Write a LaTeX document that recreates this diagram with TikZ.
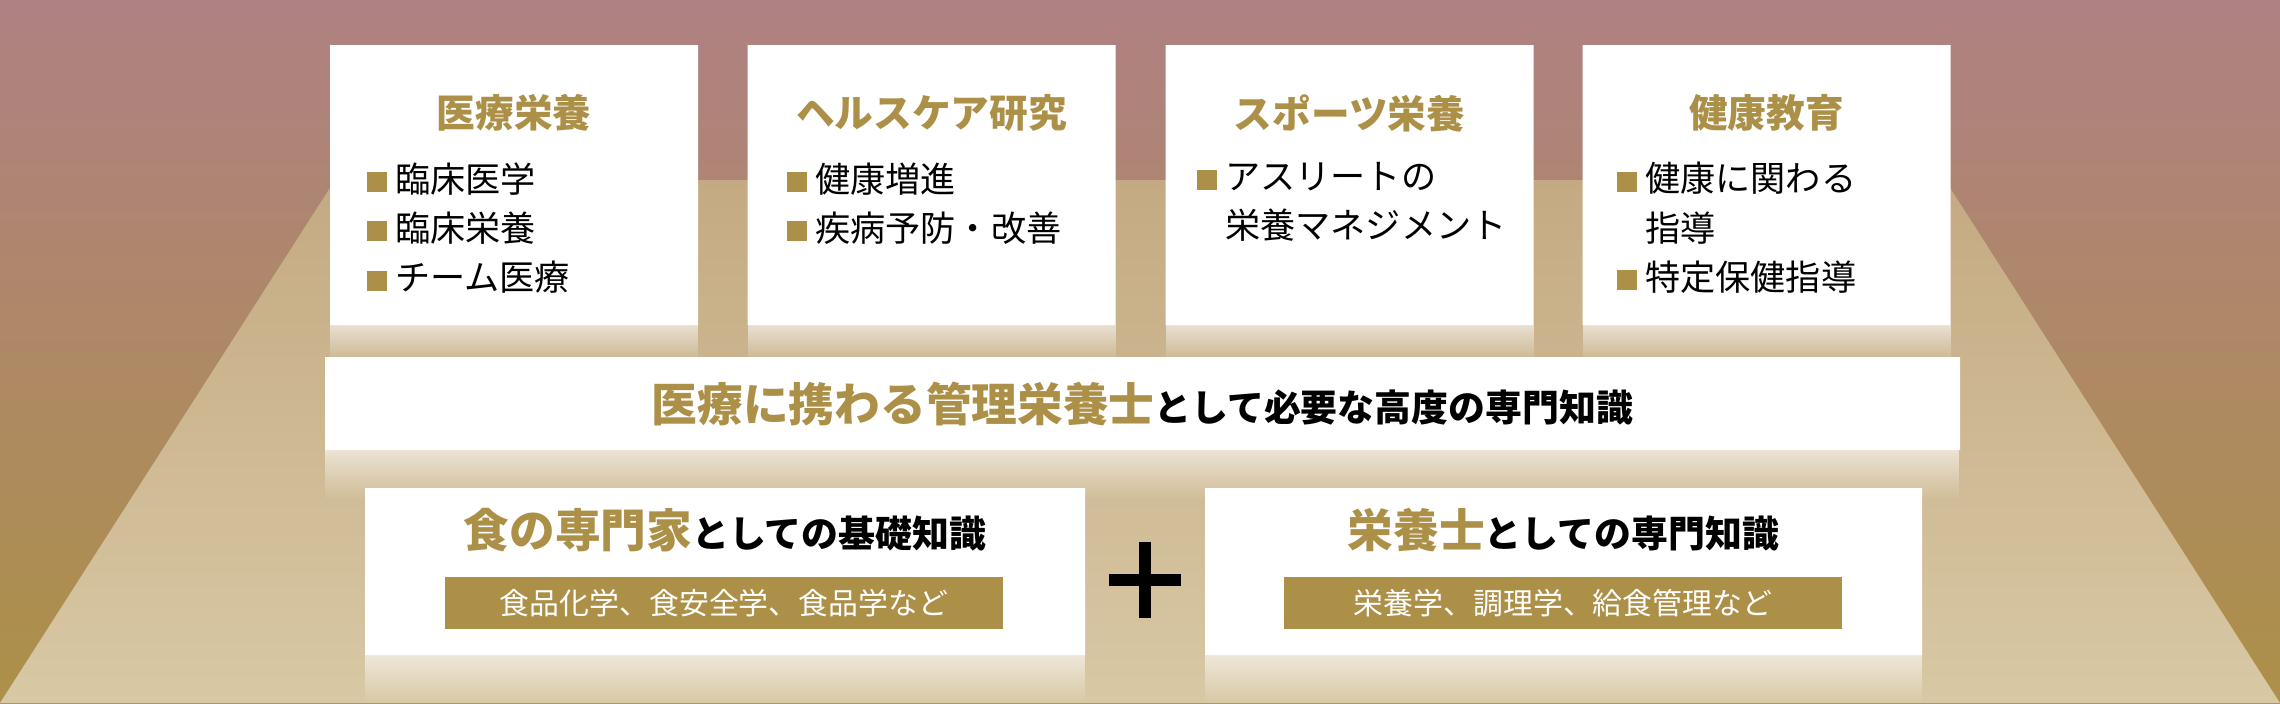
\documentclass[tikz,border=0pt]{standalone}
\usepackage{fontspec}
\setmainfont{Noto Sans CJK JP}
\usetikzlibrary{shapes.misc, fadings, positioning}
\definecolor{gold}{HTML}{AD9048}
\definecolor{mauve}{HTML}{AF8183}
\definecolor{beigeT}{HTML}{C4AA82}
\definecolor{beigeB}{HTML}{D8C8A4}
\tikzset{
  card/.style={chamfered rectangle, chamfered rectangle corners={north west,south west}, chamfered rectangle xsep=0.1cm, chamfered rectangle ysep=0.1cm, fill=white, draw=none, inner sep=0pt},
  glow/.style={fill=white, path fading=south, opacity=0.6},
  head/.style={font=\bfseries\fontsize{11}{12}\selectfont, text=gold},
  item/.style={font=\fontsize{10}{14}\selectfont, align=left, anchor=north west},
  tag/.style={fill=gold, text=white, minimum width=5.58cm, minimum height=0.5cm, font=\fontsize{8.5}{9}\selectfont}
}
\newcommand{\sq}{\textcolor{gold}{\rule{0.2cm}{0.2cm}}\ }
\begin{document}
\begin{tikzpicture}
\useasboundingbox (0,0) rectangle (22.8,-7.03);
% background
\shade[top color=mauve, bottom color=gold] (0,0) rectangle (22.8,-7.03);
\shade[top color=beigeT, bottom color=beigeB] (0,-7.03) -- (3.35,-1.8) -- (19.45,-1.8) -- (22.8,-7.03) -- cycle;

% top row
\foreach \x/\n in {5.14/a, 9.315/b, 13.495/c, 17.665/d} {
  \fill[glow] (\x-1.84,-3.25) rectangle (\x+1.84,-3.62);
  \node[card, minimum width=3.68cm, minimum height=2.8cm] (\n) at (\x,-1.85) {};
}
\node[head, below=0.38cm of a.north] (ah) {医療栄養};
\node[head, below=0.38cm of b.north] (bh) {ヘルスケア研究};
\node[head, below=0.38cm of c.north] (ch) {スポーツ栄養};
\node[head, below=0.38cm of d.north] (dh) {健康教育};
\node[item] (ai) at (3.55,-1.5) {\sq 臨床医学\\\sq 臨床栄養\\\sq チーム医療};
\node[item] (bi) at (7.75,-1.5) {\sq 健康増進\\\sq 疾病予防・改善};
\node[item] (ci) at (11.85,-1.5) {\sq アスリートの\\\phantom{\sq}栄養マネジメント};
\node[item] (di) at (16.05,-1.5) {\sq 健康に関わる\\\phantom{\sq}指導\\\sq 特定保健指導};

% middle bar
\fill[glow] (3.25,-4.5) rectangle (19.6,-5.0);
\node[card, minimum width=16.35cm, minimum height=0.93cm] (mid) at (11.425,-4.035) {};
\node (midt) at (mid) {{\bfseries\fontsize{13}{14}\selectfont\color{gold}医療に携わる管理栄養士}{\bfseries\fontsize{10.5}{12}\selectfont として必要な高度の専門知識}};

% bottom row
\fill[glow] (3.65,-6.55) rectangle (10.85,-7.03);
\fill[glow] (12.05,-6.55) rectangle (19.22,-7.03);
\node[card, minimum width=7.2cm, minimum height=1.67cm] (food) at (7.25,-5.715) {};
\node[card, minimum width=7.17cm, minimum height=1.67cm] (diet) at (15.635,-5.715) {};
\node (foodt) at (7.25,-5.3) {{\bfseries\fontsize{13}{14}\selectfont\color{gold}食の専門家}{\bfseries\fontsize{10.5}{12}\selectfont としての基礎知識}};
\node (diett) at (15.635,-5.3) {{\bfseries\fontsize{13}{14}\selectfont\color{gold}栄養士}{\bfseries\fontsize{10.5}{12}\selectfont としての専門知識}};
\node[tag] (foodg) at (7.24,-6.03) {食品化学、食安全学、食品学など};
\node[tag] (dietg) at (15.63,-6.03) {栄養学、調理学、給食管理など};
\coordinate (plus) at (11.45,-5.8);
\draw[line width=3.5pt] ([xshift=-0.36cm]plus) -- ([xshift=0.36cm]plus) ([yshift=-0.38cm]plus) -- ([yshift=0.38cm]plus);
\end{tikzpicture}
\end{document}
